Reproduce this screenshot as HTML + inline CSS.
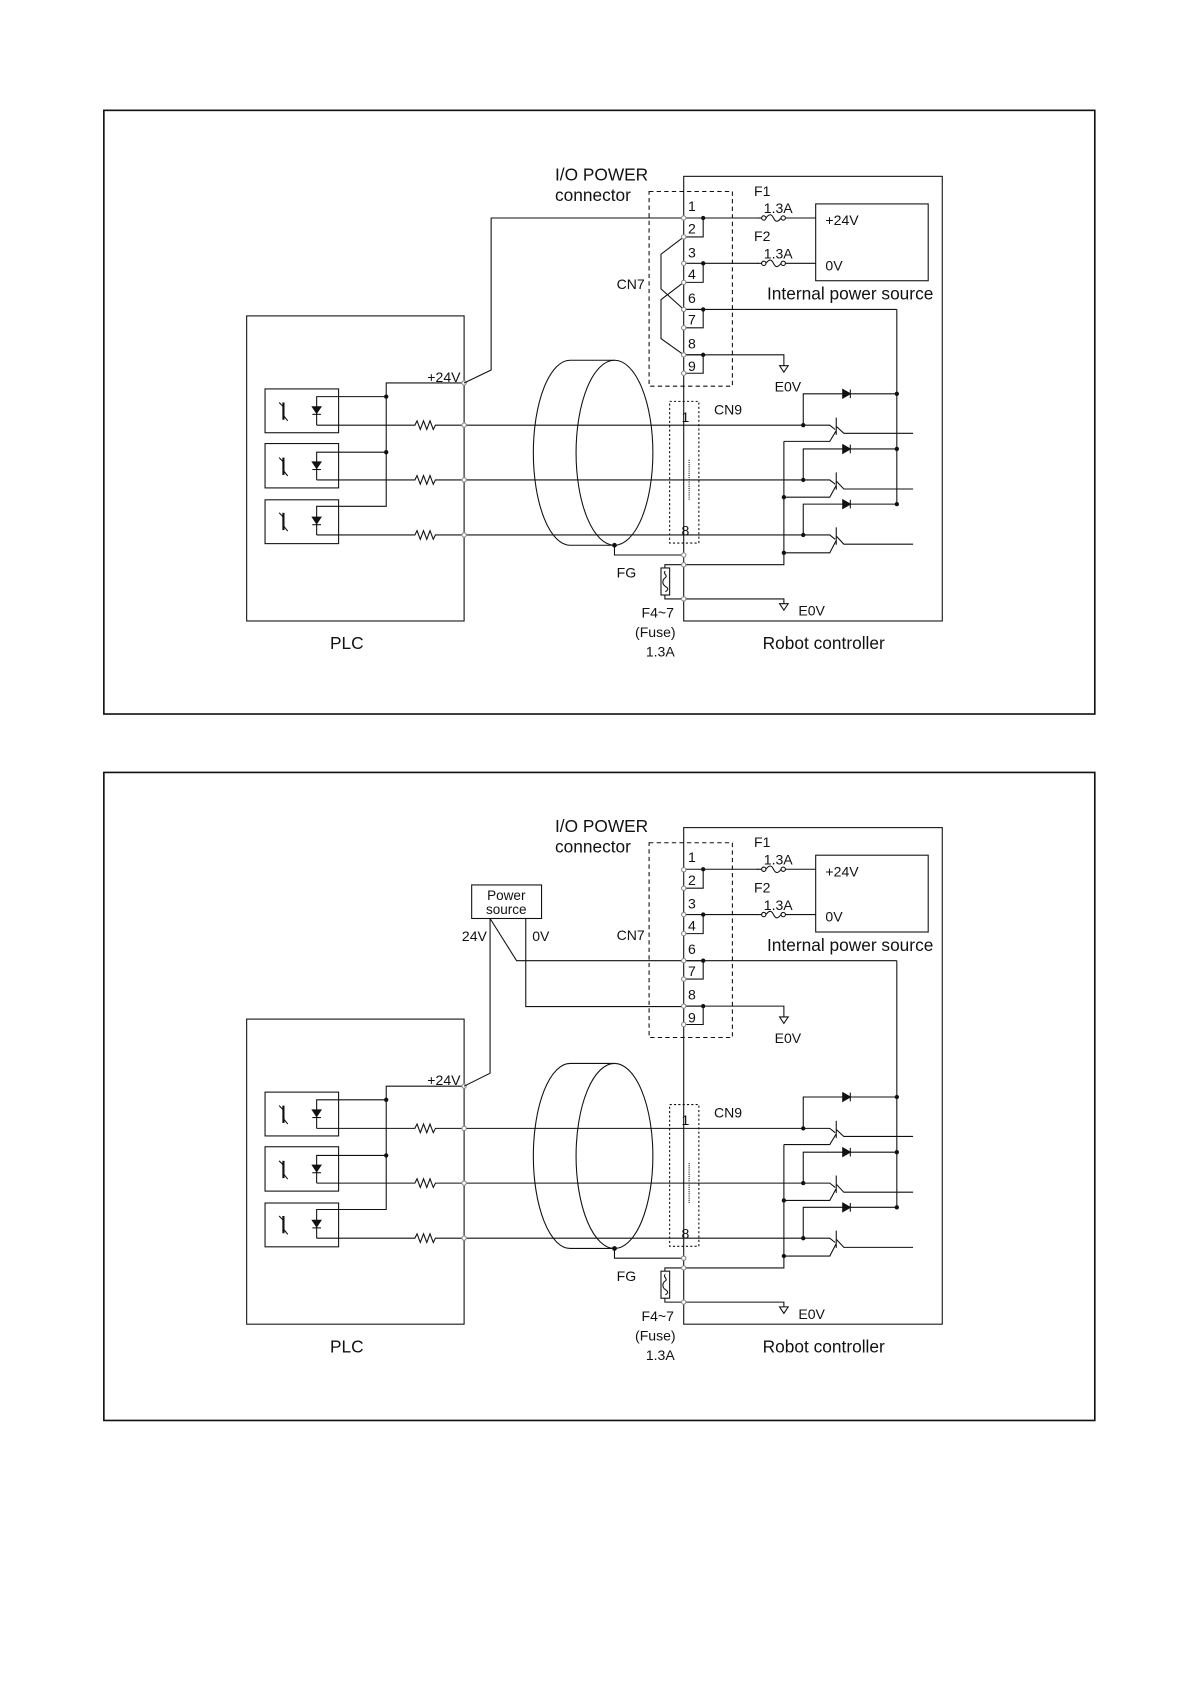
<!DOCTYPE html>
<html><head><meta charset="utf-8"><style>
html,body{margin:0;padding:0;background:#fff;}
svg{display:block;}
text{font-family:"Liberation Sans",sans-serif;fill:#111;}
</style></head><body>
<svg width="1190" height="1684" viewBox="0 0 1100 1556.6" preserveAspectRatio="none" xmlns="http://www.w3.org/2000/svg">
<defs>
<g id="fuse">
<line x1="0" y1="0" x2="4" y2="0" stroke="#111"/>
<circle cx="6" cy="0" r="2" fill="#fff" stroke="#111"/>
<path d="M8,0 C11,-4 13,-4 15,0 S19,4 22,0" fill="none" stroke="#111"/>
<circle cx="24" cy="0" r="2" fill="#fff" stroke="#111"/>
</g>
<g id="upper">
<rect x="600" y="177" width="77" height="180" fill="none" stroke="#111" stroke-dasharray="4,3"/>
<rect x="754" y="188.5" width="104" height="71" fill="none" stroke="#111"/>
<path d="M632,201.5H650V219H632 M632,243.4H650V261H632 M632,286H650V303H632 M632,328H650V345H632" fill="none" stroke="#111"/>
<line x1="650" y1="201.5" x2="701" y2="201.5" stroke="#111"/>
<use href="#fuse" x="700" y="201.5"/>
<line x1="726" y1="201.5" x2="754" y2="201.5" stroke="#111"/>
<line x1="650" y1="243.4" x2="701" y2="243.4" stroke="#111"/>
<use href="#fuse" x="700" y="243.4"/>
<line x1="726" y1="243.4" x2="754" y2="243.4" stroke="#111"/>
<line x1="632" y1="286" x2="829" y2="286" stroke="#111"/>
<path d="M632,328H724.6V338" fill="none" stroke="#111"/>
<path d="M720.6,338H728.6L724.6,344Z" fill="#fff" stroke="#111"/>
<g fill="#111">
<circle cx="650" cy="201.5" r="2"/><circle cx="650" cy="243.4" r="2"/><circle cx="650" cy="286" r="2"/><circle cx="650" cy="328" r="2"/>
</g>
<g font-size="13">
<text x="636" y="195">1</text><text x="636" y="216">2</text><text x="636" y="238">3</text><text x="636" y="258">4</text>
<text x="636" y="280">6</text><text x="636" y="300">7</text><text x="636" y="322">8</text><text x="636" y="343">9</text>
<text x="697" y="181">F1</text><text x="706" y="197">1.3A</text>
<text x="697" y="223">F2</text><text x="706" y="239">1.3A</text>
<text x="763" y="208">+24V</text><text x="763" y="250">0V</text>
<text x="716" y="362">E0V</text>
<text x="570" y="267">CN7</text>
</g>
<g font-size="16">
<text x="709" y="277">Internal power source</text>
<text x="513" y="167">I/O POWER</text>
<text x="513" y="186">connector</text>
</g>
</g>
<g id="lower">
<rect x="228" y="292" width="201" height="282" fill="none" stroke="#111"/>
<g fill="none" stroke="#111">
<rect x="245" y="359.5" width="68" height="40.5"/>
<rect x="245" y="410" width="68" height="41"/>
<rect x="245" y="462" width="68" height="40.5"/>
<path d="M429,354H357V468H292.7V494.5 M357,366.6H292.7V393 M357,418H292.7V443.6"/>
<path d="M292.7,393H383.5l2,-4l3,8l3,-8l3,8l3,-8l3,8l2,-4H767l5,4"/>
<path d="M292.7,443.6H383.5l2,-4l3,8l3,-8l3,8l3,-8l3,8l2,-4H767l5,4"/>
<path d="M292.7,494.5H383.5l2,-4l3,8l3,-8l3,8l3,-8l3,8l2,-4H767l5,4"/>
</g>
<g stroke="#111" fill="#111">
<g><line x1="262" y1="372" x2="262" y2="388" stroke-width="2"/><line x1="262" y1="376" x2="258" y2="372"/><line x1="262" y1="384" x2="266" y2="389"/>
<path d="M288.7,376H296.7L292.7,382Z"/><line x1="288.7" y1="383" x2="296.7" y2="383"/></g>
<g transform="translate(0,51)"><line x1="262" y1="372" x2="262" y2="388" stroke-width="2"/><line x1="262" y1="376" x2="258" y2="372"/><line x1="262" y1="384" x2="266" y2="389"/>
<path d="M288.7,376H296.7L292.7,382Z"/><line x1="288.7" y1="383" x2="296.7" y2="383"/></g>
<g transform="translate(0,102)"><line x1="262" y1="372" x2="262" y2="388" stroke-width="2"/><line x1="262" y1="376" x2="258" y2="372"/><line x1="262" y1="384" x2="266" y2="389"/>
<path d="M288.7,376H296.7L292.7,382Z"/><line x1="288.7" y1="383" x2="296.7" y2="383"/></g>
</g>
<g fill="none" stroke="#111">
<ellipse cx="568" cy="418.5" rx="35.5" ry="85.5"/>
<path d="M527,333 A34,85.5 0 0 0 527,504 H568 M527,333H568"/>
<path d="M568,504V513H632"/>
<rect x="619" y="371" width="27" height="131" stroke-dasharray="2,2"/>
<line x1="637" y1="425" x2="637" y2="462" stroke-dasharray="1,1"/>
<path d="M632,522H614.6V525 M614.6,550V553.6H724.6V558 M632,522H724.6V408"/>
<rect x="611" y="525" width="8" height="25"/>
<path d="M615,528c-3,2 3,4 0,6s-3,6 0,8s3,3 0,5"/>
<path d="M720.6,558H728.6L724.6,564Z" fill="#fff"/>
<path d="M742.5,393V364H829 M742.5,443.6V415H829 M742.5,494.5V466H829"/>
<path d="M773,386V402 M773,394L780,400.5H844 M773,398L767,408H724.6"/>
<path d="M773,436.6V452.6 M773,444.6L780,452H844 M773,448.6L767,459.6H724.6"/>
<path d="M773,487.5V503.5 M773,495.5L780,503H844 M773,499.5L767,511H724.6"/>
</g>
<g fill="#111" stroke="#111">
<path d="M779,360V368L786,364Z"/><line x1="786" y1="360" x2="786" y2="368"/>
<path d="M779,411V419L786,415Z"/><line x1="786" y1="411" x2="786" y2="419"/>
<path d="M779,462V470L786,466Z"/><line x1="786" y1="462" x2="786" y2="470"/>
</g>
<g fill="#111">
<circle cx="357" cy="366.6" r="2"/><circle cx="357" cy="418" r="2"/>
<circle cx="568" cy="504" r="2.2"/>
<circle cx="742.5" cy="393" r="2"/><circle cx="742.5" cy="443.6" r="2"/><circle cx="742.5" cy="494.5" r="2"/>
<circle cx="829" cy="364" r="2"/><circle cx="829" cy="415" r="2"/><circle cx="829" cy="466" r="2"/>
<circle cx="724.6" cy="459.6" r="2"/><circle cx="724.6" cy="511" r="2"/>
</g>
<g fill="#fff" stroke="#888">
<circle cx="429" cy="354" r="2"/><circle cx="429" cy="393" r="2"/><circle cx="429" cy="443.6" r="2"/><circle cx="429" cy="494.5" r="2"/>
<circle cx="632" cy="513" r="2"/><circle cx="632" cy="522" r="2"/><circle cx="632" cy="553.6" r="2"/>
</g>
<g font-size="13">
<text x="395" y="353">+24V</text>
<text x="630" y="390">1</text><text x="630" y="495">8</text>
<text x="660" y="383">CN9</text>
<text x="570" y="534">FG</text>
<text x="593" y="571">F4~7</text><text x="587" y="589">(Fuse)</text><text x="597" y="607">1.3A</text>
<text x="738" y="569">E0V</text>
</g>
<g font-size="16">
<text x="305" y="600">PLC</text>
<text x="705" y="600">Robot controller</text>
</g>
</g>
</defs>

<rect x="96" y="102" width="916" height="558" fill="none" stroke="#111" stroke-width="1.5"/>
<rect x="632" y="163" width="239" height="411" fill="none" stroke="#111"/>
<line x1="829" y1="286" x2="829" y2="466" stroke="#111"/>
<use href="#upper"/>
<use href="#lower"/>
<path d="M632,201.5H454V342L429,354" fill="none" stroke="#111"/>
<path d="M632,219L611,235V267L632,286 M632,261L611,277V313L632,328" fill="none" stroke="#111"/>
<g fill="#fff" stroke="#888">
<circle cx="632" cy="201.5" r="2"/><circle cx="632" cy="219" r="2"/><circle cx="632" cy="243.4" r="2"/><circle cx="632" cy="261" r="2"/>
<circle cx="632" cy="286" r="2"/><circle cx="632" cy="303" r="2"/><circle cx="632" cy="328" r="2"/><circle cx="632" cy="345" r="2"/>
</g>

<rect x="96" y="714" width="916" height="599" fill="none" stroke="#111" stroke-width="1.5"/>
<rect x="632" y="765" width="239" height="459" fill="none" stroke="#111"/>
<line x1="829" y1="888" x2="829" y2="1116" stroke="#111"/>
<use href="#upper" y="602"/>
<use href="#lower" y="650"/>
<rect x="436" y="818" width="64.6" height="31" fill="#fff" stroke="#111"/>
<text x="468" y="832" font-size="12.5" text-anchor="middle">Power</text>
<text x="468" y="845" font-size="12.5" text-anchor="middle">source</text>
<text x="427" y="870" font-size="13">24V</text>
<text x="492" y="870" font-size="13">0V</text>
<path d="M453,849V992L429,1004 M453,849L477.5,888H632 M486,849V930.4H632" fill="none" stroke="#111"/>
<g fill="#fff" stroke="#888">
<circle cx="632" cy="804" r="2"/><circle cx="632" cy="821" r="2"/><circle cx="632" cy="845.4" r="2"/><circle cx="632" cy="863" r="2"/>
<circle cx="632" cy="888" r="2"/><circle cx="632" cy="905" r="2"/><circle cx="632" cy="930" r="2"/><circle cx="632" cy="947" r="2"/>
</g>
</svg>
</body></html>
